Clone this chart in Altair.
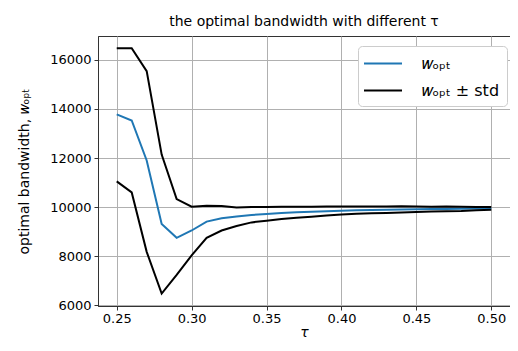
import altair as alt
import pandas as pd

tau = [0.25, 0.26, 0.27, 0.28, 0.29, 0.30, 0.31, 0.32, 0.33, 0.34, 0.35, 0.36, 0.37,
       0.38, 0.39, 0.40, 0.41, 0.42, 0.43, 0.44, 0.45, 0.46, 0.47, 0.48, 0.49, 0.50]
w_mean = [13780, 13530, 11900, 9320, 8750, 9050, 9410, 9550, 9620, 9680, 9720, 9760, 9790,
          9810, 9830, 9850, 9870, 9880, 9890, 9900, 9910, 9920, 9930, 9940, 9950, 9960]
w_upper = [16470, 16470, 15540, 12140, 10330, 10020, 10060, 10050, 9990, 10010, 10010, 10020, 10020,
           10020, 10030, 10030, 10030, 10030, 10030, 10040, 10030, 10020, 10030, 10020, 10010, 10010]
w_lower = [11050, 10600, 8180, 6480, 7240, 8040, 8750, 9050, 9230, 9380, 9450, 9520, 9570,
           9610, 9660, 9700, 9730, 9750, 9760, 9780, 9800, 9820, 9830, 9840, 9870, 9890]

lab_mean = "𝑤ₒₚₜ"
lab_std = "𝑤ₒₚₜ ± std"

rows = []
for name, vals, lab in [("mean", w_mean, lab_mean), ("upper", w_upper, lab_std), ("lower", w_lower, lab_std)]:
    for t, v in zip(tau, vals):
        rows.append({"tau": t, "w": v, "series": name, "label": lab})
df = pd.DataFrame(rows)

chart = alt.Chart(df).mark_line(strokeWidth=2).encode(
    x=alt.X("tau:Q", title="τ",
            scale=alt.Scale(domain=[0.2375, 0.5125], nice=False, zero=False),
            axis=alt.Axis(values=[0.25, 0.30, 0.35, 0.40, 0.45, 0.50], format=".2f",
                          titleFontStyle="italic", titlePadding=0, labelPadding=2)),
    y=alt.Y("w:Q", title="optimal bandwidth, 𝑤ₒₚₜ",
            scale=alt.Scale(domain=[5975, 16970], nice=False, zero=False),
            axis=alt.Axis(values=[6000, 8000, 10000, 12000, 14000, 16000], format="d",
                          titlePadding=18, labelPadding=3)),
    color=alt.Color("label:N",
                    scale=alt.Scale(domain=[lab_mean, lab_std], range=["#1f77b4", "#000000"]),
                    legend=alt.Legend(title=None, orient="none", legendX=260, legendY=10,
                                      symbolType="M-2,0H2", symbolSize=361, symbolStrokeWidth=2,
                                      symbolOffset=7.5, labelOffset=28,
                                      labelFontSize=16, labelFont="DejaVu Sans", labelColor="black",
                                      strokeColor="#cccccc", fillColor="white", cornerRadius=4,
                                      padding=7, rowPadding=8, labelLimit=200)),
    detail="series:N",
    order="tau:Q",
).properties(
    width=412, height=270,
    title=alt.TitleParams("the optimal bandwidth with different τ", fontSize=14,
                          font="DejaVu Sans", fontWeight="normal", color="black", offset=7),
    autosize=alt.AutoSizeParams(type="none"),
    padding={"left": 90, "top": 28, "right": 0, "bottom": 33},
).configure_axis(
    labelFont="DejaVu Sans", titleFont="DejaVu Sans", labelFontSize=13, titleFontSize=14,
    labelColor="black", titleColor="black", titleFontWeight="normal",
    domainColor="#333333", tickColor="#333333", tickSize=4,
    gridColor="#b0b0b0", gridWidth=1,
).configure_view(stroke="#333333", strokeWidth=1)

chart.save("out.html", embed_options={"renderer": "svg", "actions": False})
